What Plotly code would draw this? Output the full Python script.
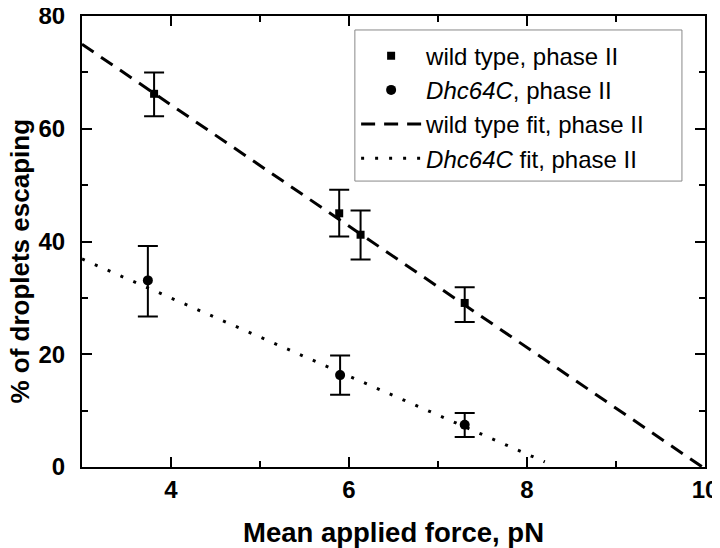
import plotly.graph_objects as go

# Data
wt_force = [3.81, 5.89, 6.13, 7.30]
wt_escape = [66.2, 45.0, 41.2, 29.1]
wt_err_plus = [3.8, 4.2, 4.3, 2.8]
wt_err_minus = [4.0, 4.1, 4.4, 3.4]

dhc_force = [3.74, 5.90, 7.30]
dhc_escape = [33.1, 16.3, 7.5]
dhc_err_plus = [6.1, 3.5, 2.1]
dhc_err_minus = [6.4, 3.5, 2.2]

wt_fit_force = [3.0, 9.97]
wt_fit_escape = [75.0, 0.0]
dhc_fit_force = [3.0, 8.2]
dhc_fit_escape = [36.9, 0.9]

FONT = "Arial, Liberation Sans, sans-serif"

fig = go.Figure()

fig.add_trace(go.Scatter(
    x=wt_fit_force, y=wt_fit_escape, mode="lines",
    name="wild type fit, phase II", legendgroup="c", legendrank=3,
    line=dict(color="black", width=3, dash="14px,9px"),
))
fig.add_trace(go.Scatter(
    x=dhc_fit_force, y=dhc_fit_escape, mode="lines",
    name="<i>Dhc64C</i> fit, phase II", legendgroup="d", legendrank=4,
    line=dict(color="black", width=3, dash="3px,11px"),
))
fig.add_trace(go.Scatter(
    x=wt_force, y=wt_escape, mode="markers",
    name="wild type, phase II", legendgroup="a", legendrank=1,
    marker=dict(symbol="square", size=8, color="black"),
    error_y=dict(type="data", array=wt_err_plus, arrayminus=wt_err_minus,
                 color="black", thickness=2, width=10),
))
fig.add_trace(go.Scatter(
    x=dhc_force, y=dhc_escape, mode="markers",
    name="<i>Dhc64C</i>, phase II", legendgroup="b", legendrank=2,
    marker=dict(symbol="circle", size=10, color="black"),
    error_y=dict(type="data", array=dhc_err_plus, arrayminus=dhc_err_minus,
                 color="black", thickness=2, width=10),
))

axis_common = dict(
    showline=True, linecolor="black", linewidth=2, mirror="ticks",
    ticks="inside", ticklen=10, tickwidth=2, tickcolor="black",
    showgrid=False, zeroline=False, automargin=False,
    ticklabeloverflow="allow",
    tickfont=dict(family=FONT, size=24, color="black", weight="bold"),
)

fig.update_xaxes(
    range=[3, 10], tick0=0, dtick=2,
    minor=dict(ticks="inside", ticklen=6, tickwidth=2, tickcolor="black", dtick=1, tick0=0),
    title=dict(text="Mean applied force, pN", standoff=21,
               font=dict(family=FONT, size=27.5, color="black", weight="bold")),
    ticklabelstandoff=0,
    **axis_common,
)
fig.update_yaxes(
    range=[0, 80], tick0=0, dtick=20,
    minor=dict(ticks="inside", ticklen=6, tickwidth=2, tickcolor="black", dtick=10, tick0=0),
    ticklabelstandoff=10,
    **axis_common,
)

fig.add_annotation(
    text="% of droplets escaping", textangle=-90,
    xref="paper", yref="paper", x=-0.1, y=0.457,
    xanchor="center", yanchor="middle", showarrow=False,
    font=dict(family=FONT, size=26, color="black", weight="bold"),
)

# legend frame
fig.add_shape(
    type="rect", xref="paper", yref="paper",
    x0=0.438, x1=0.963, y0=0.634, y1=0.969,
    line=dict(color="#888888", width=1), fillcolor="white", layer="above",
)

fig.update_layout(
    width=720, height=548,
    margin=dict(l=74, r=23, t=8, b=89),
    paper_bgcolor="white", plot_bgcolor="white",
    font=dict(family=FONT, color="black"),
    legend=dict(
        x=0.44, y=0.961, xanchor="left", yanchor="top",
        bgcolor="rgba(0,0,0,0)", borderwidth=0,
        font=dict(family=FONT, size=24, color="black"),
        tracegroupgap=0, itemwidth=60,
    ),
)

fig.write_html("out.html")
